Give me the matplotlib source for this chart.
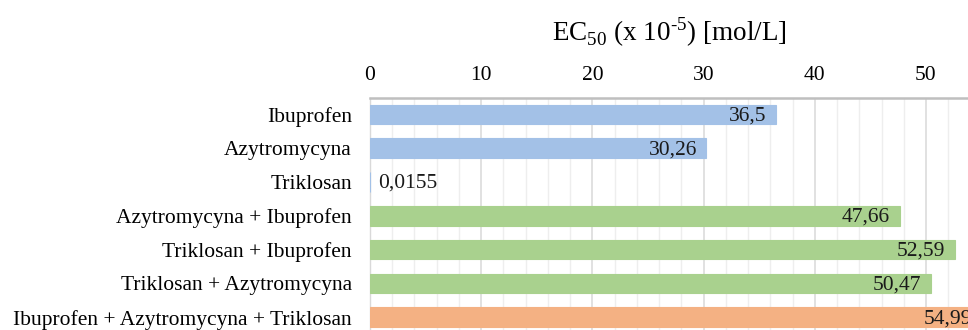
import numpy as np
import matplotlib
matplotlib.use('Agg')
import matplotlib.pyplot as plt
from matplotlib.ticker import MultipleLocator

plt.rcParams['font.family'] = ['Liberation Serif', 'DejaVu Serif']  # serif like Cambria
plt.rcParams['mathtext.fontset'] = 'custom'
plt.rcParams['mathtext.rm'] = 'Liberation Serif'

# data
names = ['Ibuprofen', 'Azytromycyna', 'Triklosan', 'Azytromycyna + Ibuprofen',
         'Triklosan + Ibuprofen', 'Triklosan + Azytromycyna',
         'Ibuprofen + Azytromycyna + Triklosan']
ec50 = [36.5, 30.26, 0.0155, 47.66, 52.59, 50.47, 54.99]
groups = ['single', 'single', 'single', 'pair', 'pair', 'pair', 'triple']
group_colors = {'single': '#a3c1e7', 'pair': '#a9d18e', 'triple': '#f4b183'}

fig = plt.figure(figsize=(9.68, 3.3), dpi=100)  # 968x330 px
ax = fig.add_axes([370 / 968, -0.0124, 622.7 / 968, 0.7169])  # right/bottom run past the edge, like the crop

pos = np.arange(len(names))
cols = [group_colors[g] for g in groups]
ax.barh(pos, ec50, height=0.58, color=cols, edgecolor=cols, linewidth=0.8, zorder=3)
ax.set_ylim(len(names) - 0.5, -0.5)  # first category on top
ax.set_xlim(0, 56)
ax.set_yticks(pos)
ax.set_yticklabels(names, fontsize=15.5)

# x axis on top
ax.xaxis.tick_top()
ax.set_xticks(np.arange(0, 51, 10))
ax.xaxis.set_minor_locator(MultipleLocator(2))
ax.tick_params(axis='x', which='both', length=0, pad=9, labelsize=15.5)
ax.tick_params(axis='y', length=0, pad=13)
ax.grid(axis='x', which='major', color='#d9d9d9', linewidth=1.1, zorder=0)
ax.grid(axis='x', which='minor', color='#eeeeee', linewidth=1.0, zorder=0)

for s in ['right', 'bottom']:
    ax.spines[s].set_visible(False)
ax.spines['top'].set_color('#bfbfbf')
ax.spines['top'].set_linewidth(1.8)
ax.spines['left'].set_color('#d9d9d9')
ax.spines['left'].set_linewidth(1.0)

# value labels, inside end (outside when the bar is too short)
for p, v in zip(pos, ec50):
    txt = str(v).replace('.', ',')
    if v > 5:
        ax.annotate(txt, xy=(v, p), xytext=(-7, -1), textcoords='offset points',
                    ha='right', va='center', fontsize=15.5, color='#1a1a1a', zorder=4)
    else:
        ax.annotate(txt, xy=(v, p), xytext=(6, -1), textcoords='offset points',
                    ha='left', va='center', fontsize=15.5, color='#1a1a1a', zorder=4)

fig.text(669 / 968, 1 - 32 / 330, r'EC$_{\mathregular{50}}$ (x 10$^{\text{-5}}$) [mol/L]',
         ha='center', va='center', fontsize=19.5)

plt.savefig('out.png', dpi=100)
